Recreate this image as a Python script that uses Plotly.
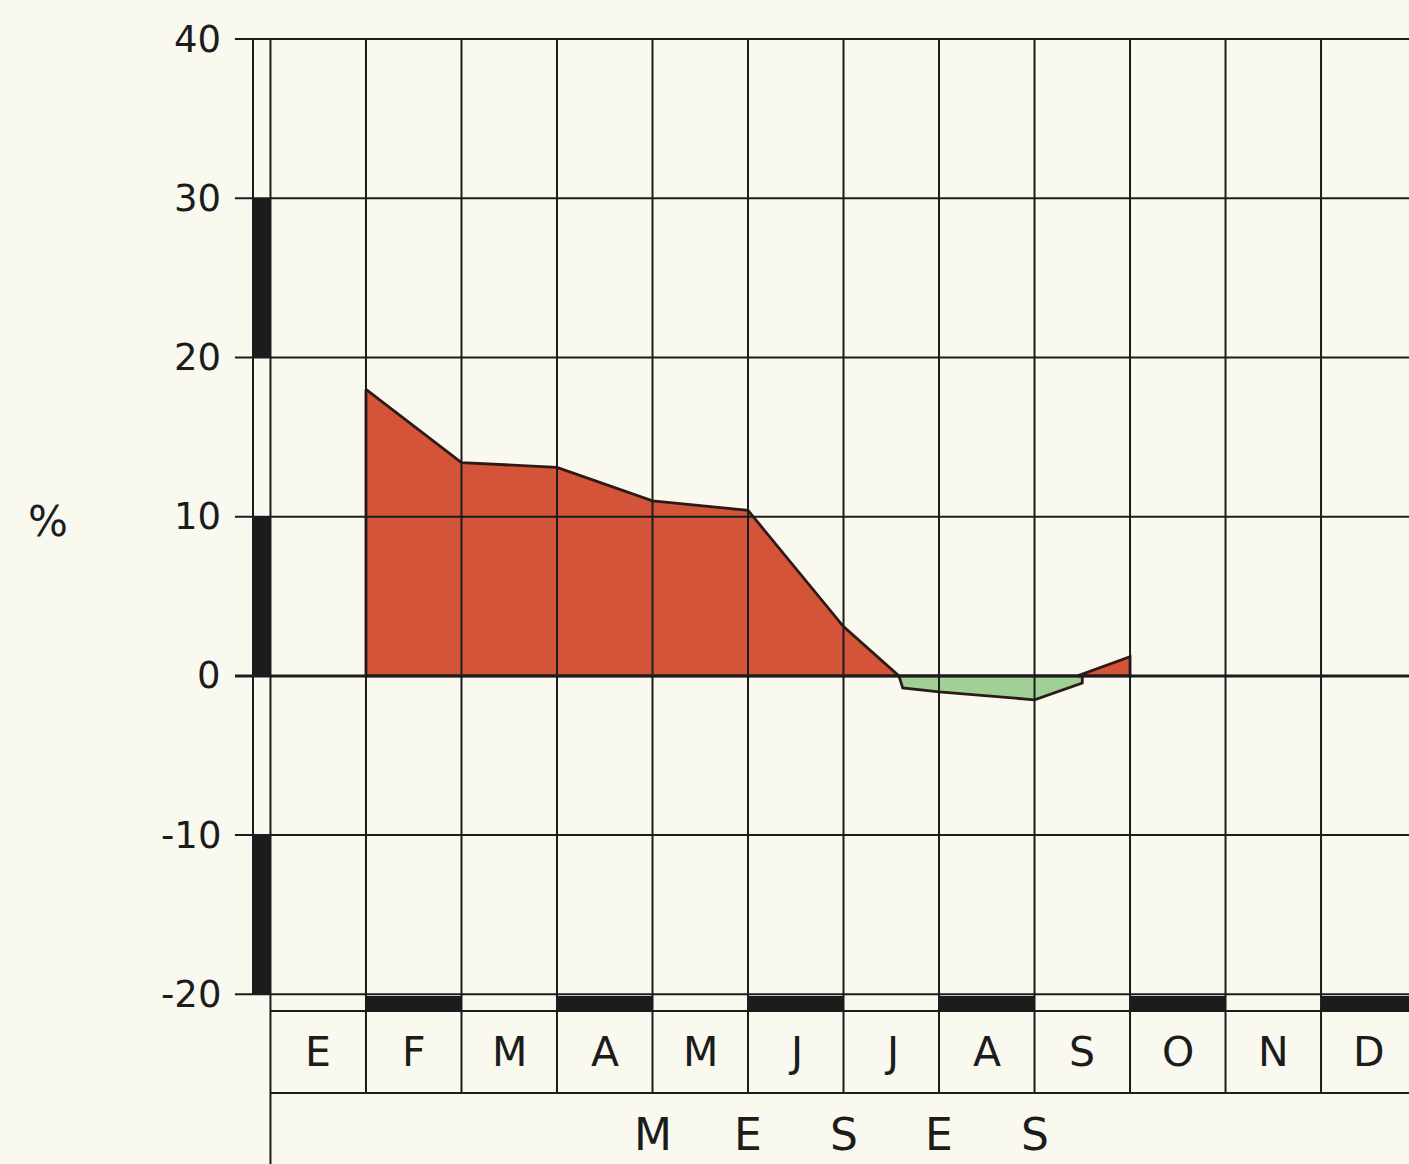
import plotly.graph_objects as go

# ---------------- data ----------------
months = ["E", "F", "M", "A", "M", "J", "J", "A", "S", "O", "N", "D"]
y_ticks = [40, 30, 20, 10, 0, -10, -20]
y_tick_labels = ["40", "30", "20", "10", "0", "-10", "-20"]
axis_title_letters = ["M", "E", "S", "E", "S"]

# positive (red) area, x in month-boundary units
red_x = [1, 2, 3, 4, 5, 6, 6.58]
red_y = [18.0, 13.4, 13.1, 11.0, 10.4, 3.1, 0.0]
# negative (green) area
green_x = [6.58, 6.62, 7, 8, 8.5]
green_y = [0.0, -0.75, -1.0, -1.5, -0.45]
# second positive piece
red2_x = [8.45, 9]
red2_y = [0.0, 1.2]

# ---------------- styles ----------------
BG = "rgb(250,249,240)"
INK = "#1c1c1c"
RED = "rgb(212,84,58)"
GREEN = "rgb(160,208,150)"
OUTLINE = "#2e1a14"
FONT = "DejaVu Sans"
WEIGHT = 400

fig = go.Figure()


def closed(xs, ys):
    px = list(xs)
    py = list(ys)
    if py[-1] != 0:
        px.append(xs[-1]); py.append(0)
    if py[0] != 0:
        px.insert(0, xs[0]); py.insert(0, 0)
    px.append(px[0]); py.append(py[0])
    return px, py


for xs, ys, col in [(red_x, red_y, RED), (green_x, green_y, GREEN), (red2_x, red2_y, RED)]:
    px, py = closed(xs, ys)
    fig.add_trace(go.Scatter(x=px, y=py, mode="lines", fill="toself", fillcolor=col,
                             line=dict(color=OUTLINE, width=2.8), hoverinfo="skip",
                             showlegend=False))

shapes = []
X_TICK0 = -0.372   # tick start (left)
X_INNER = -0.183   # left double line
X_END = 12.2
Y_ROW1 = -21.05    # line under black bars
Y_ROW2 = -26.2     # bottom of month label row
Y_BOTTOM = -31

# horizontal grid lines
for v in y_ticks:
    shapes.append(dict(type="line", xref="x", yref="y", x0=X_TICK0, x1=X_END, y0=v, y1=v,
                       line=dict(color=INK, width=3 if v == 0 else 2), layer="above"))
# vertical grid lines (month boundaries)
for i in range(12):
    y_low = Y_BOTTOM if i == 0 else Y_ROW2
    shapes.append(dict(type="line", xref="x", yref="y", x0=i, x1=i, y0=40, y1=y_low,
                       line=dict(color=INK, width=2), layer="above"))
# left double line
shapes.append(dict(type="line", xref="x", yref="y", x0=X_INNER, x1=X_INNER, y0=40, y1=-20,
                   line=dict(color=INK, width=2), layer="above"))
# black bars on the y axis
for lo, hi in [(20, 30), (0, 10), (-20, -10)]:
    shapes.append(dict(type="rect", xref="x", yref="y", x0=X_INNER, x1=0, y0=lo, y1=hi,
                       fillcolor=INK, line=dict(width=0), layer="above"))
# rows below the chart
for v in [Y_ROW1, Y_ROW2]:
    shapes.append(dict(type="line", xref="x", yref="y", x0=0, x1=X_END, y0=v, y1=v,
                       line=dict(color=INK, width=2), layer="above"))
# alternating black bars on the x axis
for c in [1, 3, 5, 7, 9, 11]:
    shapes.append(dict(type="rect", xref="x", yref="y", x0=c, x1=c + 1, y0=-20.1, y1=Y_ROW1,
                       fillcolor=INK, line=dict(width=0), layer="above"))

annotations = []
for v, t in zip(y_ticks, y_tick_labels):
    annotations.append(dict(x=-0.50, y=v, xref="x", yref="y", text=t, showarrow=False,
                            xanchor="right", yanchor="middle",
                            font=dict(family=FONT, size=37, color=INK, weight=WEIGHT)))
for i, m in enumerate(months):
    annotations.append(dict(x=i + 0.5, y=-23.6, xref="x", yref="y", text=m, showarrow=False,
                            xanchor="center", yanchor="middle",
                            font=dict(family=FONT, size=41, color=INK, weight=WEIGHT)))
for i, m in enumerate(axis_title_letters):
    annotations.append(dict(x=4 + i, y=-28.8, xref="x", yref="y", text=m, showarrow=False,
                            xanchor="center", yanchor="middle",
                            font=dict(family=FONT, size=44, color=INK, weight=WEIGHT)))
annotations.append(dict(x=-2.33, y=9.7, xref="x", yref="y", text="%", showarrow=False,
                        xanchor="center", yanchor="middle",
                        font=dict(family=FONT, size=42, color=INK, weight=WEIGHT)))

fig.update_layout(
    width=1409, height=1164,
    margin=dict(l=0, r=0, t=0, b=0),
    paper_bgcolor=BG, plot_bgcolor=BG,
    xaxis=dict(range=[-2.832, 11.921], visible=False, fixedrange=True),
    yaxis=dict(range=[-30.657, 42.454], visible=False, fixedrange=True),
    shapes=shapes, annotations=annotations,
    showlegend=False,
)

fig.write_html("out.html", config={"displayModeBar": False},
               post_script="document.body.style.margin='0';document.body.style.overflow='hidden';")
